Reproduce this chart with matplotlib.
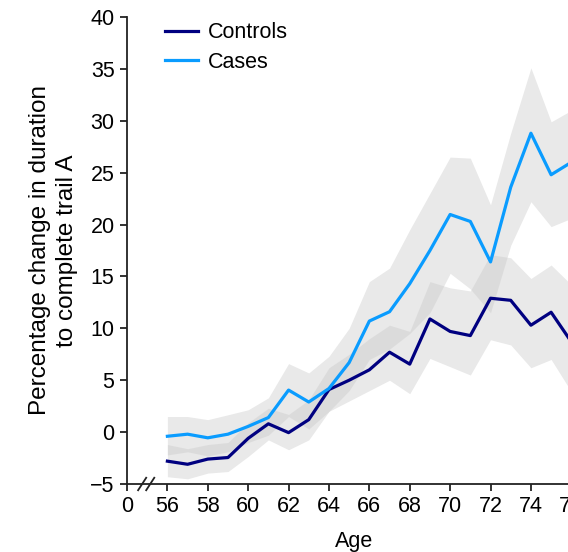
import matplotlib
matplotlib.use("Agg")
import matplotlib.pyplot as plt
import numpy as np

plt.rcParams['font.family'] = ['Liberation Sans', 'DejaVu Sans']

ages = list(range(56, 77))
controls = [-2.8, -3.1, -2.6, -2.45, -0.6, 0.8, -0.05, 1.2, 4.1, 5.0, 6.0, 7.7, 6.55,
            10.9, 9.7, 9.3, 12.9, 12.7, 10.3, 11.55, 8.7]
controls_lo = [-4.3, -4.5, -3.95, -3.8, -2.35, -0.75, -1.7, -0.75, 2.0, 3.0, 4.0, 5.0, 3.7,
               7.1, 6.3, 5.5, 8.9, 8.4, 6.2, 7.0, 3.9]
controls_hi = [-1.2, -1.6, -1.2, -1.0, 0.9, 2.3, 1.7, 3.1, 6.2, 7.5, 9.0, 10.3, 9.7,
               14.5, 13.9, 13.6, 17.1, 16.8, 14.8, 16.1, 14.2]
cases = [-0.4, -0.2, -0.55, -0.2, 0.55, 1.4, 4.05, 2.9, 4.2, 6.7, 10.7, 11.6, 14.3,
         17.5, 20.97, 20.3, 16.4, 23.6, 28.8, 24.8, 26.0]
cases_lo = [-2.2, -1.9, -2.3, -1.9, -1.0, -0.3, 1.5, 0.3, 2.0, 4.0, 7.0, 8.0, 9.5,
            11.5, 15.3, 13.8, 11.5, 18.0, 22.2, 19.8, 20.6]
cases_hi = [1.5, 1.5, 1.2, 1.67, 2.15, 3.3, 6.6, 5.7, 7.3, 10.0, 14.5, 15.8, 19.5,
            23.0, 26.5, 26.4, 21.9, 28.8, 35.1, 29.9, 31.0]

xticks = [54, 56, 58, 60, 62, 64, 66, 68, 70, 72, 74, 76]
xticklabels = ['0', '56', '58', '60', '62', '64', '66', '68', '70', '72', '74', '76']
yticks = [-5, 0, 5, 10, 15, 20, 25, 30, 35, 40]

fig = plt.figure(figsize=(5.68, 5.52), dpi=100)
ax = fig.add_axes([0.2236, 0.1232, 0.800, 0.846])

band_color = '#c8c8c8'
ax.fill_between(ages, controls_lo, controls_hi, color=band_color, alpha=0.4, linewidth=0)
ax.fill_between(ages, cases_lo, cases_hi, color=band_color, alpha=0.4, linewidth=0)
ax.plot(ages, controls, color='#000080', lw=2.3, label='Controls')
ax.plot(ages, cases, color='#0a9cff', lw=2.3, label='Cases')

ax.set_xlim(54, 76.5)
ax.set_ylim(-5, 40)
ax.set_xticks(xticks)
ax.set_xticklabels(xticklabels)
ax.set_yticks(yticks)

for s in ['top', 'right']:
    ax.spines[s].set_visible(False)
for s in ['left', 'bottom']:
    ax.spines[s].set_color('#222222')
    ax.spines[s].set_linewidth(1.3)
ax.tick_params(axis='both', direction='out', length=5, width=1.3, color='#222222',
               labelsize=15.5, pad=4)

ax.set_xlabel('Age', fontsize=15.5, labelpad=10)
ax.set_ylabel('Percentage change in duration\nto complete trail A', fontsize=17.5,
              labelpad=9, linespacing=1.3, multialignment='center')

# axis break marks
for xb in (54.75, 55.15):
    ax.plot([xb - 0.2, xb + 0.2], [-5.6, -4.4], color='#222222', lw=1.3,
            clip_on=False, transform=ax.transData)

leg = ax.legend(loc='upper left', bbox_to_anchor=(0.04, 1.03), frameon=False,
                fontsize=15.5, handlelength=1.55, handletextpad=0.45, labelspacing=0.4)

fig.savefig('out.png', dpi=100)
